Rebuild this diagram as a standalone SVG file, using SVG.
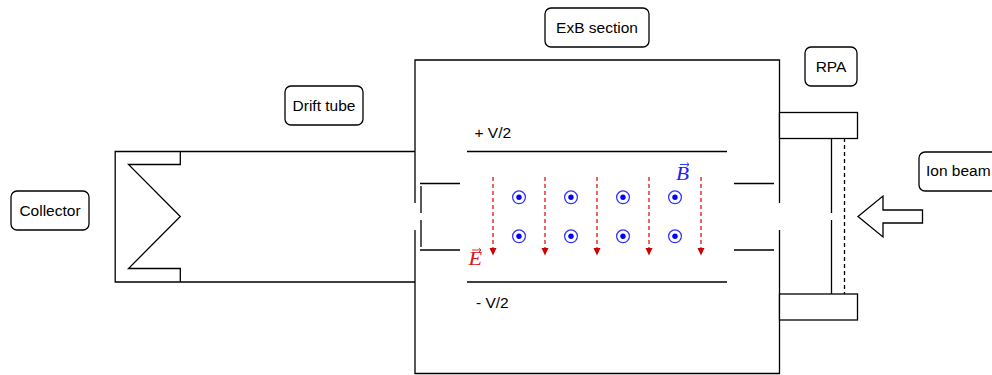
<svg xmlns="http://www.w3.org/2000/svg" width="992" height="375" viewBox="0 0 992 375">
<style>
.l{fill:none;stroke:#000;stroke-width:1.3}
.box{fill:#fff;stroke:#000;stroke-width:1.3}
.t{font-family:"Liberation Sans",Arial,sans-serif;font-size:15.5px;fill:#000}
.c{text-anchor:middle}
.e{fill:none;stroke:#d81818;stroke-width:1.3;stroke-dasharray:4 3}
.ring{fill:#fff;stroke:#3030ff;stroke-width:1.2}
.dot{fill:#0000ff}
.m{font-family:"Liberation Serif",serif;font-style:italic;font-size:18px}
</style>
<defs>
<g id="b"><circle class="ring" r="6.4"/><circle class="dot" r="2.7"/></g>
</defs>
<g id="connectors">
<path class="l" d="M415 203V60H779.500V203M415 230V373.500H779.500V230"/>
<path class="l" d="M415 151.500H115.200V282H415"/>
<path class="l" d="M180.300 151.500V164.500H128.500L180.300 216.500L128.500 268.500H180.300V282"/>
<path class="l" d="M467 151.500H727M467 282H727"/>
<path class="l" d="M420 183.500H460M420 250H460M734 183.500H774M734 250H774"/>
<path class="l" d="M421 186V213M421 220V247"/>
<path class="l" d="M831.500 138V213M831.500 220V294"/>
<path class="l" d="M844.500 138V294" stroke-dasharray="4 3"/>
<path class="e" d="M493 177V250M545 177V250M597 177V250M649 177V250M701 177V250"/>
<path fill="#cc0000" d="M489.500 248H496.500L493 255.500ZM541.500 248H548.500L545 255.500ZM593.500 248H600.500L597 255.500ZM645.500 248H652.500L649 255.500ZM697.500 248H704.500L701 255.500Z"/>
</g>
<g id="rpa-top"><rect class="box" x="779.500" y="112.500" width="78" height="26"/></g>
<g id="rpa-bottom"><rect class="box" x="779.500" y="294" width="78" height="26"/></g>
<g id="b-field">
<use href="#b" x="519" y="197.300"/><use href="#b" x="571" y="197.300"/><use href="#b" x="623" y="197.300"/><use href="#b" x="675" y="197.300"/>
<use href="#b" x="519" y="236.300"/><use href="#b" x="571" y="236.300"/><use href="#b" x="623" y="236.300"/><use href="#b" x="675" y="236.300"/>
</g>
<g id="ion-arrow"><path class="box" stroke-width="1.200" d="M858 216.500L883 196V210H922.500V223H883V237Z"/></g>
<g id="label-plus"><text class="t" x="474.500" y="138">+ V/2</text></g>
<g id="label-minus"><text class="t" x="476" y="308">- V/2</text></g>
<g id="label-e"><text class="m" x="468.500" y="265" fill="#d81818" textLength="13.500" lengthAdjust="spacingAndGlyphs">E</text><path d="M472 250H481M478.800 248L481 250L478.800 252" fill="none" stroke="#d81818" stroke-width="0.900"/></g>
<g id="label-b"><text class="m" x="676" y="180" fill="#2020ff" textLength="13" lengthAdjust="spacingAndGlyphs">B</text><path d="M680 164.500H689M686.800 162.500L689 164.500L686.800 166.500" fill="none" stroke="#2020ff" stroke-width="0.900"/></g>
<g id="collector"><rect class="box" x="11" y="191" width="78" height="39" rx="6"/><text class="t c" x="50" y="216">Collector</text></g>
<g id="drift-tube"><rect class="box" x="285" y="86" width="78" height="39" rx="6"/><text class="t c" x="324" y="111">Drift tube</text></g>
<g id="exb"><rect class="box" x="545" y="8" width="104" height="39" rx="6"/><text class="t c" x="597" y="33">ExB section</text></g>
<g id="rpa"><rect class="box" x="805" y="47" width="52" height="39" rx="6"/><text class="t c" x="831" y="72">RPA</text></g>
<g id="ion-beam"><rect class="box" x="919" y="152" width="90" height="39" rx="6"/><text class="t" x="926" y="176">Ion beam</text></g>
</svg>
